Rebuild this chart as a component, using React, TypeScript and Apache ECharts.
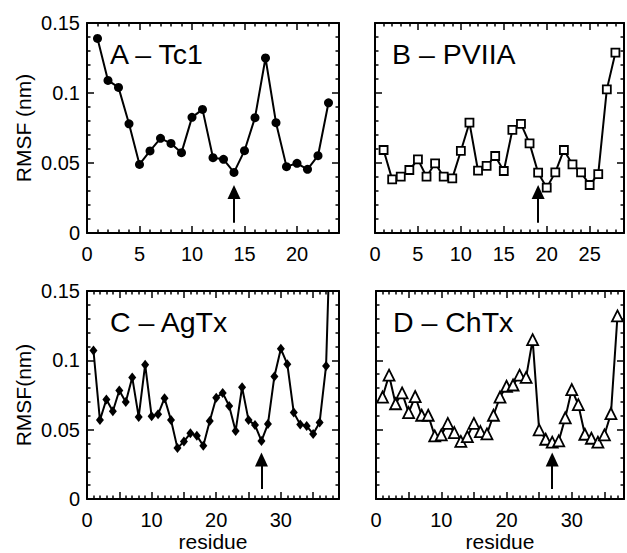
import React, { useEffect, useRef } from 'react';
import * as echarts from 'echarts';

// RMSF values (nm) per residue
const tc1 = [0.139, 0.109, 0.104, 0.078, 0.049, 0.0586, 0.0676, 0.064, 0.0574, 0.0826, 0.0883, 0.0538, 0.0526, 0.0433, 0.0588, 0.0824, 0.125, 0.0788, 0.0474, 0.0498, 0.0455, 0.0552, 0.093];
const pviia = [0.0593, 0.0383, 0.0402, 0.045, 0.0526, 0.0402, 0.0498, 0.0402, 0.039, 0.0586, 0.0788, 0.0445, 0.048, 0.055, 0.0443, 0.0736, 0.0779, 0.064, 0.0431, 0.0324, 0.0433, 0.0593, 0.049, 0.0433, 0.0343, 0.0421, 0.1026, 0.1288];
const agtx = [0.1071, 0.0569, 0.0718, 0.0633, 0.0782, 0.0699, 0.0877, 0.0592, 0.0969, 0.0597, 0.0611, 0.0727, 0.0569, 0.0367, 0.0415, 0.0474, 0.0457, 0.0384, 0.0562, 0.073, 0.0765, 0.0671, 0.049, 0.0806, 0.0569, 0.0533, 0.0419, 0.054, 0.0884, 0.1083, 0.0972, 0.0623, 0.0538, 0.0526, 0.0469, 0.0552, 0.096, 0.25];
const chtx = [0.0735, 0.0893, 0.0687, 0.0765, 0.0623, 0.0739, 0.0604, 0.0604, 0.0455, 0.0462, 0.0545, 0.0479, 0.0415, 0.045, 0.0545, 0.0486, 0.0469, 0.0604, 0.0735, 0.0813, 0.0822, 0.0893, 0.0877, 0.1149, 0.0498, 0.0431, 0.041, 0.0419, 0.0585, 0.0789, 0.068, 0.0467, 0.0438, 0.041, 0.0462, 0.0616, 0.132];

const panelTitles = ['A \u2013 Tc1', 'B \u2013 PVIIA', 'C \u2013 AgTx', 'D \u2013 ChTx'];
const panelData = [tc1, pviia, agtx, chtx];
const xMaxes = [24, 29, 39, 38];
const xLabelSteps = [5, 5, 10, 10];
// arrows marking key residues: shaft from arrowTail to arrowEnd (head centred on end)
const arrowResidue = [14, 19, 27, 27];
const arrowTail = [0.0074, 0.0074, 0.0073, 0.0073];
const arrowEnd = [0.0293, 0.0293, 0.0284, 0.0284];
const yTicks = [0, 0.05, 0.1, 0.15];
const yNames = ['RMSF (nm)', '', 'RMSF(nm)', ''];
const xNames = ['', '', 'residue', 'residue'];

const FONT = '"Liberation Sans", Arial, Helvetica, sans-serif';

export default function App() {
  const ref = useRef<HTMLDivElement>(null);

  useEffect(() => {
    if (!ref.current) return;
    const chart = echarts.init(ref.current, undefined, { renderer: 'svg' });

    const grids = [
      { left: 87, top: 23, width: 252, height: 210 },
      { left: 375, top: 23, width: 255, height: 210 },
      { left: 87, top: 291, width: 252, height: 211 },
      { left: 376, top: 291, width: 254, height: 211 },
    ];

    const symbols = ['circle', 'rect', 'diamond', 'triangle'];
    const symbolSizes: any[] = [9, 8, [8, 10], 11];
    const hollow = [false, true, false, true];

    const axisLine = { show: true, onZero: false, lineStyle: { color: '#000', width: 2 } };
    const axisTick = { show: true, inside: true, length: 7, lineStyle: { color: '#000', width: 1.5 } };
    const minorTick = { show: true, splitNumber: 5, length: 3.5, lineStyle: { color: '#000', width: 1.5 } };

    const xAxis: any[] = [];
    const yAxis: any[] = [];
    const series: any[] = [];
    const title: any[] = [];

    panelData.forEach((vals, i) => {
      const step = xLabelSteps[i];
      xAxis.push({
        type: 'value', gridIndex: i, position: 'bottom', min: 0, max: xMaxes[i], interval: 5,
        axisLine, axisTick, minorTick, splitLine: { show: false }, minorSplitLine: { show: false },
        name: xNames[i], nameLocation: 'middle', nameGap: 32,
        nameTextStyle: { color: '#000', fontSize: 21, fontFamily: FONT },
        axisLabel: {
          color: '#000', fontSize: 20, fontFamily: FONT, margin: 11, showMaxLabel: true,
          formatter: (v: number) => (Math.abs(v % step) < 1e-9 ? String(v) : ''),
        },
      });
      xAxis.push({
        type: 'value', gridIndex: i, position: 'top', min: 0, max: xMaxes[i], interval: 5,
        axisLine, axisTick, minorTick, splitLine: { show: false }, axisLabel: { show: false },
      });
      yAxis.push({
        type: 'value', gridIndex: i, position: 'left', min: yTicks[0], max: yTicks[yTicks.length - 1], interval: 0.05,
        axisLine, axisTick, minorTick, splitLine: { show: false },
        name: yNames[i], nameLocation: 'middle', nameGap: 53,
        nameTextStyle: { color: '#000', fontSize: 21, fontFamily: FONT },
        axisLabel: {
          show: i % 2 === 0, color: '#000', fontSize: 20, fontFamily: FONT, margin: 7,
          formatter: (v: number) => String(+v.toFixed(2)),
        },
      });
      yAxis.push({
        type: 'value', gridIndex: i, position: 'right', min: yTicks[0], max: yTicks[yTicks.length - 1], interval: 0.05,
        axisLine, axisTick, minorTick, splitLine: { show: false }, axisLabel: { show: false },
      });

      series.push({
        type: 'line',
        xAxisIndex: 2 * i,
        yAxisIndex: 2 * i,
        data: vals.map((v, k) => [k + 1, v]),
        symbol: symbols[i],
        symbolSize: symbolSizes[i],
        showAllSymbol: true,
        clip: true,
        lineStyle: { color: '#000', width: 2 },
        itemStyle: hollow[i]
          ? { color: '#fff', borderColor: '#000', borderWidth: 1.8 }
          : { color: '#000', borderColor: '#000', borderWidth: 0 },
        emphasis: { disabled: true },
        z: 3,
        markLine: {
          silent: true,
          animation: false,
          symbol: ['none', 'triangle'],
          symbolSize: [13, 14],
          label: { show: false },
          lineStyle: { color: '#000', width: 2, type: 'solid' },
          itemStyle: { color: '#000' },
          emphasis: { disabled: true },
          data: [[{ coord: [arrowResidue[i], arrowTail[i]] }, { coord: [arrowResidue[i], arrowEnd[i]] }]],
        },
      });

      title.push({
        text: panelTitles[i],
        left: grids[i].left + (i % 2 === 0 ? 23 : 17),
        top: grids[i].top + 16,
        padding: 0,
        textStyle: { color: '#000', fontSize: 28.5, fontWeight: 'normal', fontFamily: FONT },
      });
    });

    chart.setOption({
      animation: false,
      backgroundColor: '#fff',
      title,
      grid: grids,
      xAxis,
      yAxis,
      series,
    });

    return () => chart.dispose();
  }, []);

  return (
    <div
      ref={ref}
      style={{ position: 'absolute', left: 0, top: 0, width: 627, height: 553 }}
    />
  );
}
